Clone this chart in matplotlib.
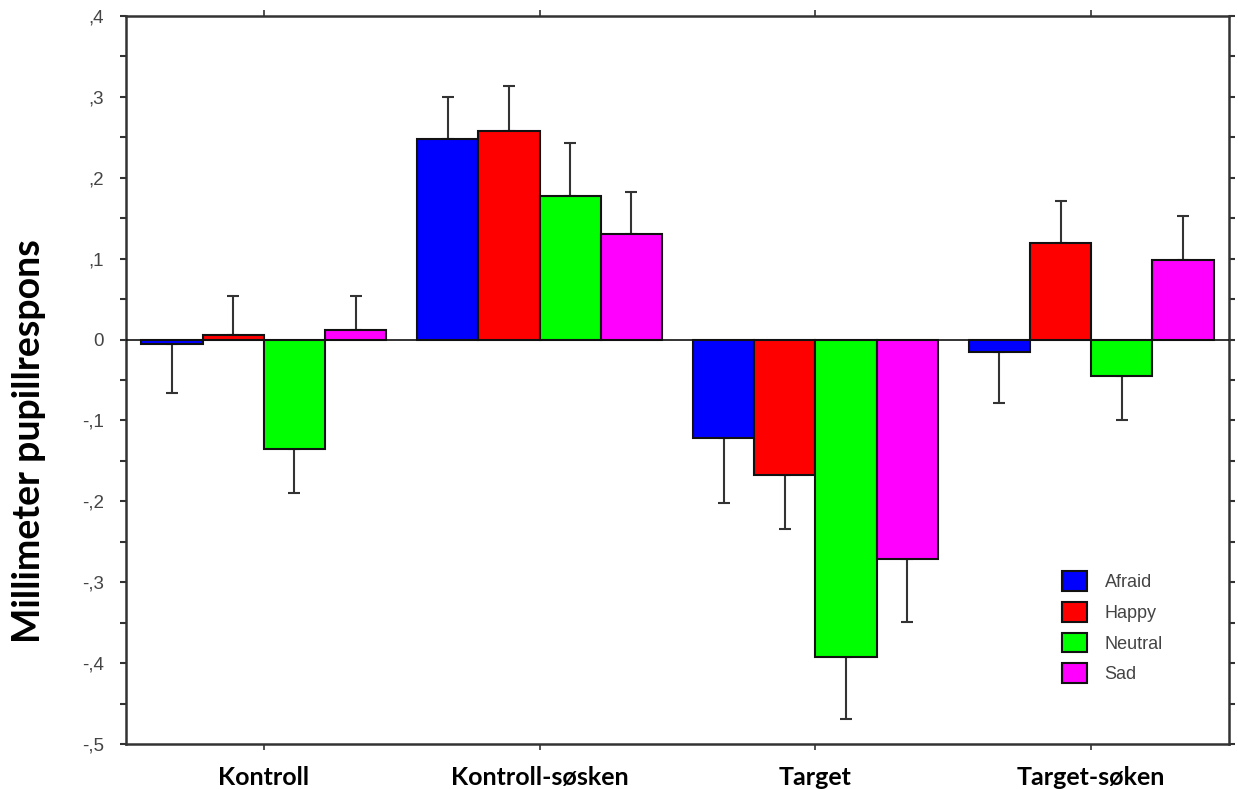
import matplotlib
matplotlib.use("Agg")
import matplotlib.pyplot as plt
import numpy as np

categories = ["Kontroll", "Kontroll-søsken", "Target", "Target-søken"]
series = ["Afraid", "Happy", "Neutral", "Sad"]
colors = ["#0000FF", "#FF0000", "#00FF00", "#FF00FF"]

afraid = [-0.006, 0.248, -0.122, -0.016]
happy = [0.006, 0.258, -0.167, 0.119]
neutral = [-0.135, 0.177, -0.392, -0.045]
sad = [0.012, 0.131, -0.271, 0.098]

afraid_err = [0.060, 0.052, 0.080, 0.063]
happy_err = [0.048, 0.055, 0.067, 0.052]
neutral_err = [0.055, 0.066, 0.077, 0.054]
sad_err = [0.042, 0.052, 0.078, 0.055]

ytick_vals = [0.4, 0.3, 0.2, 0.1, 0.0, -0.1, -0.2, -0.3, -0.4, -0.5]
ytick_labels = [",4", ",3", ",2", ",1", "0", "-,1", "-,2", "-,3", "-,4", "-,5"]

values = [afraid, happy, neutral, sad]
errors = [afraid_err, happy_err, neutral_err, sad_err]

fig = plt.figure(figsize=(12.38, 7.89), dpi=100)
ax = fig.add_axes([126/1238, 45/789, (1229-126)/1238, (744-16)/789])

x = np.arange(len(categories))
width = 0.222
for i, (name, vals, errs, col) in enumerate(zip(series, values, errors, colors)):
    pos = x + (i - 1.5) * width
    vals = np.array(vals)
    errs = np.array(errs)
    lower = np.where(vals < 0, errs, 0)
    upper = np.where(vals >= 0, errs, 0)
    ax.bar(pos, vals, width, color=col, edgecolor="#111111", linewidth=1.5,
           label=name, zorder=2)
    ax.errorbar(pos, vals, yerr=[lower, upper], fmt="none", ecolor="#333333",
                elinewidth=1.5, capsize=4, capthick=1.5, zorder=1)

ax.axhline(0, color="#111111", lw=1.2, zorder=3)

ax.set_xlim(-0.5, 3.5)
ax.set_ylim(-0.5, 0.4)
ax.set_yticks(ytick_vals)
ax.set_yticklabels(ytick_labels, fontfamily="Liberation Sans", fontsize=13.5, color="#444444")
ax.set_yticks(np.arange(-0.45, 0.4, 0.1), minor=True)
ax.tick_params(axis="y", which="both", direction="out", length=4, width=1.5,
               color="#333333", pad=12, right=True)
ax.set_xticks(x)
ax.set_xticklabels(categories, fontfamily="Lato", fontweight="bold", fontsize=18, color="black")
ax.tick_params(axis="x", direction="out", length=4, width=1.2, color="#333333", pad=12, top=True)

for s in ax.spines.values():
    s.set_linewidth(1.8)
    s.set_color("#333333")

leg = ax.legend(loc="upper left", bbox_to_anchor=(929/1103, (744-564)/728), frameon=False,
                prop={"family": "Liberation Sans", "size": 13},
                handlelength=1.35, handleheight=1.3, labelspacing=0.6, handletextpad=1.0,
                borderaxespad=0)
for t in leg.get_texts():
    t.set_color("#444444")

fig.text(29/1238, 1 - 441/789, "Millimeter pupillrespons", rotation=90, ha="center", va="center",
         fontfamily="Lato", fontweight="bold", fontsize=27)

fig.savefig("out.png", dpi=100, facecolor="white")
